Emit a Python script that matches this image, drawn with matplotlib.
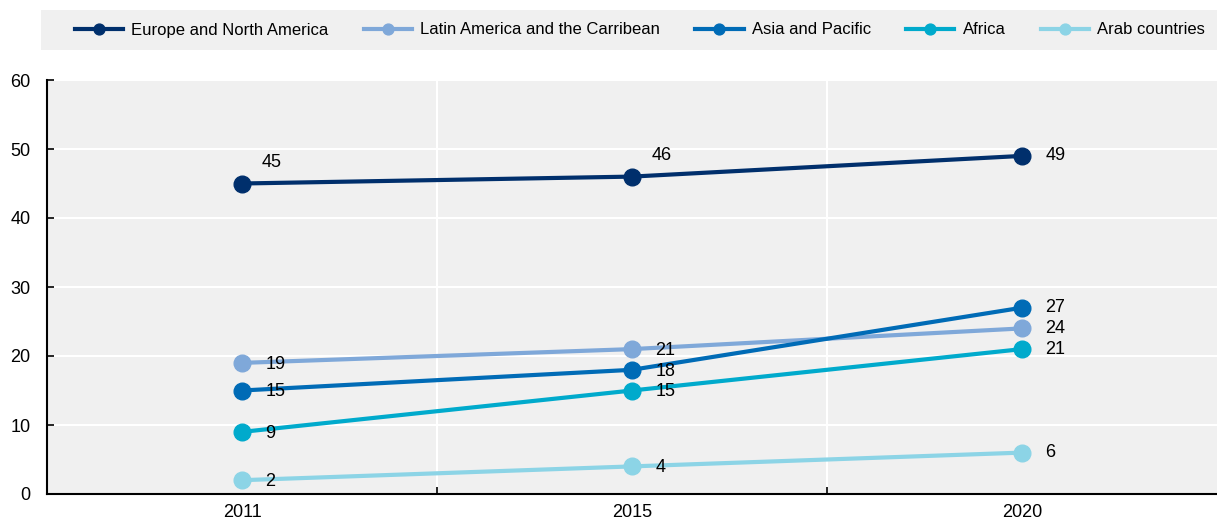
import matplotlib
matplotlib.use("Agg")
import matplotlib.pyplot as plt
from matplotlib.patches import Rectangle

years = ["2011", "2015", "2020"]
series_names = ["Europe and North America", "Latin America and the Carribean",
                "Asia and Pacific", "Africa", "Arab countries"]
europe = [45, 46, 49]
latin = [19, 21, 24]
asia = [15, 18, 27]
africa = [9, 15, 21]
arab = [2, 4, 6]
colors = ["#002F6C", "#7FA8D9", "#006BB6", "#00AACC", "#8CD4E6"]
yticks = [0, 10, 20, 30, 40, 50, 60]

plt.rcParams["font.family"] = ["Liberation Sans", "DejaVu Sans"]
plt.rcParams["font.size"] = 12

fig = plt.figure(figsize=(12.17, 5.19), dpi=100)
ax = fig.add_axes([47/1217, 1-494/519, 1-47/1217, (494-80)/519])
ax.set_facecolor("#F0F0F0")

x = list(range(len(years)))
data = [europe, latin, asia, africa, arab]
handles = []
for name, vals, c in zip(series_names, data, colors):
    h, = ax.plot(x, vals, color=c, lw=3, marker="o", ms=12, label=name, zorder=3)
    handles.append(h)

for i, (vals, c) in enumerate(zip(data, colors)):
    for xi, v in zip(x, vals):
        if i == 0 and xi < 2:
            off = (14, 15)
        elif xi == 2:
            off = (17, 0)
        else:
            off = (17, -1)
        ax.annotate(str(v), (xi, v), xytext=off, textcoords="offset points",
                    ha="left", va="center", fontsize=13, color="black", zorder=4)

ax.set_xlim(-0.5, 2.5)
ax.set_ylim(0, 60)
ax.set_yticks(yticks)
ax.set_xticks(x)
ax.set_xticklabels(years)
ax.set_xticks([0.5, 1.5], minor=True)
ax.grid(False)
for yv in yticks[1:]:
    ax.axhline(yv, color="white", lw=1.5, zorder=1)
for xv in [0.5, 1.5]:
    ax.axvline(xv, color="white", lw=1.5, zorder=1)
for s in ["top", "right"]:
    ax.spines[s].set_visible(False)
for s in ["left", "bottom"]:
    ax.spines[s].set_linewidth(1.5)
    ax.spines[s].set_color("black")
ax.tick_params(axis="x", which="major", length=0, pad=7, labelsize=13)
ax.tick_params(axis="x", which="minor", length=5, width=1.2, direction="in")
ax.tick_params(axis="y", length=5, width=1.2, direction="in", pad=12, labelsize=13)

fig.patches.append(Rectangle((41/1217, 1-50/519), (1217-41)/1217, 40/519,
                             transform=fig.transFigure, facecolor="#F0F0F0",
                             edgecolor="none", zorder=0))
fig.legend(handles=handles, loc="center", bbox_to_anchor=(640/1217, 1-30/519),
           ncol=5, frameon=False, fontsize=12, handlelength=2.9,
           columnspacing=2.1, handletextpad=0.5, markerscale=0.65)

fig.savefig("out.png", dpi=100)
